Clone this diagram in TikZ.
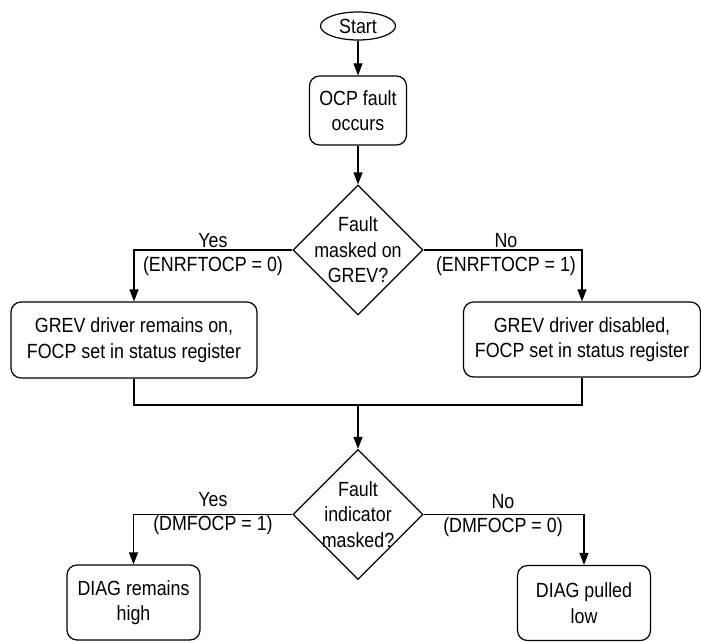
\documentclass[tikz,border=0pt]{standalone}
\usepackage{fontspec}
\setmainfont{Liberation Sans}[FakeStretch=0.87]
\usetikzlibrary{shapes.geometric,arrows.meta}
\begin{document}
\begin{tikzpicture}[x=1pt,y=-1pt,
  every node/.style={font=\fontsize{20.5pt}{25.5pt}\selectfont, align=center, inner sep=0pt},
  box/.style={draw, line width=1.2pt, rounded corners=10pt},
  dia/.style={draw, line width=1.2pt, diamond, minimum width=130pt, minimum height=130pt},
  conn/.style={line width=1.2pt},
  arr/.style={conn, -{Triangle[length=12pt,width=9pt]}},
  lbl/.style={font=\fontsize{20.5pt}{24pt}\selectfont}]
\useasboundingbox (0,0) rectangle (701,642);
\node[draw, line width=1.2pt, ellipse, minimum width=75pt, minimum height=28pt] (start) at (358,26) {Start};
\node[box, minimum width=97pt, minimum height=69pt] (ocp) at (358,110.5) {OCP fault\\occurs};
\node[dia] (d1) at (358,250) {};
\node (d1t) at (358,250) {Fault\\masked on\\GREV?};
\node[box, minimum width=246pt, minimum height=76pt] (gl) at (134,340) {GREV driver remains on,\\FOCP set in status register};
\node[box, minimum width=237pt, minimum height=75pt] (gr) at (582,339.5) {GREV driver disabled,\\FOCP set in status register};
\coordinate (j) at (358,405);
\node[dia] (d2) at (358,514.5) {};
\node (d2t) at (358,514.5) {Fault\\indicator\\masked?};
\node[box, minimum width=133pt, minimum height=75pt] (hl) at (133.5,602.5) {DIAG remains\\high};
\node[box, minimum width=133pt, minimum height=75pt] (hr) at (584,603) {DIAG pulled\\low};
% labels
\node[lbl] (y1) at (213,255) {Yes\\(ENRFTOCP = 0)};
\node[lbl] (n1) at (506,255) {No\\(ENRFTOCP = 1)};
\node[lbl] (y2) at (213,514) {Yes\\(DMFOCP = 1)};
\node[lbl] (n2) at (503,516) {No\\(DMFOCP = 0)};
% connectors
\draw[arr] (start) -- (ocp);
\draw[arr] (ocp) -- (d1.north);
\draw[arr] (d1.west) -| (gl.north);
\draw[arr] (d1.east) -| (gr.north);
\draw[conn] (gl.south) |- (j) -| (gr.south);
\draw[arr] (j) -- (d2.north);
\draw[arr] (d2.west) -| (hl.north);
\draw[arr] (d2.east) -| (hr.north);
\end{tikzpicture}
\end{document}
